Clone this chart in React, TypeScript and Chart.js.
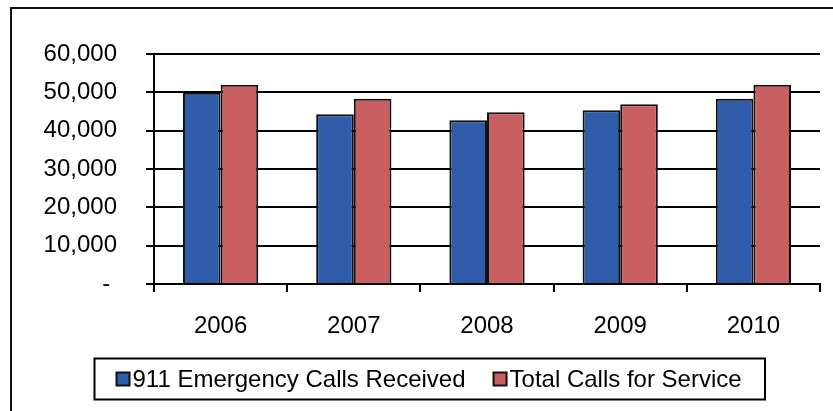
import React, { useEffect, useRef } from 'react';
import { Chart, registerables } from 'chart.js';

Chart.register(...registerables);

const years = ['2006', '2007', '2008', '2009', '2010'];
const emergencyCalls = [49900, 44300, 42700, 45300, 48300];
const totalCalls = [52000, 48300, 44800, 46900, 52000];
const seriesNames = ['911 Emergency Calls Received', 'Total Calls for Service'];
const seriesColors = ['#2F5DAA', '#C95F60'];
const yMax = 60000;
const yStep = 10000;

const FONT = '"Liberation Sans", Arial, Helvetica, sans-serif';

const boxedLegend = {
  id: 'boxedLegend',
  afterDraw(chart: any, _args: any, opts: any) {
    const ctx = chart.ctx;
    ctx.save();
    ctx.lineWidth = 2;
    ctx.strokeStyle = '#000';
    ctx.strokeRect(opts.left, opts.top, opts.width, opts.height);
    ctx.font = `24px ${FONT}`;
    ctx.textBaseline = 'middle';
    ctx.textAlign = 'left';
    const cy = opts.top + opts.height / 2;
    let x = opts.left + opts.inset;
    chart.data.datasets.forEach((ds: any) => {
      ctx.fillStyle = ds.backgroundColor;
      ctx.fillRect(x, cy - 6.5, 13, 13);
      ctx.lineWidth = 2;
      ctx.strokeStyle = '#111';
      ctx.strokeRect(x, cy - 6.5, 13, 13);
      ctx.fillStyle = '#000';
      ctx.fillText(ds.label, x + 16, cy + 1);
      x += 16 + ctx.measureText(ds.label).width + 28;
    });
    ctx.restore();
  },
};

export default function App() {
  const ref = useRef<HTMLCanvasElement | null>(null);

  useEffect(() => {
    if (!ref.current) return;
    const chart = new Chart(ref.current, {
      type: 'bar',
      data: {
        labels: years,
        datasets: [
          {
            label: seriesNames[0],
            data: emergencyCalls,
            backgroundColor: seriesColors[0],
            borderColor: '#111',
            borderWidth: 2,
          },
          {
            label: seriesNames[1],
            data: totalCalls,
            backgroundColor: seriesColors[1],
            borderColor: '#111',
            borderWidth: 2,
          },
        ],
      },
      options: {
        responsive: false,
        animation: false,
        devicePixelRatio: 1,
        layout: { padding: { top: 54, right: 13, left: 0, bottom: 67 } },
        datasets: {
          bar: { categoryPercentage: 0.565, barPercentage: 1 },
        },
        plugins: {
          legend: { display: false },
          tooltip: { enabled: false },
          boxedLegend: { left: 94.5, top: 358.5, width: 670.5, height: 41, inset: 22 },
        } as any,
        scales: {
          x: {
            grid: {
              display: true,
              drawOnChartArea: false,
              drawTicks: true,
              tickLength: 8,
              color: '#000',
              lineWidth: 2,
              offset: true,
            },
            border: { display: true, color: '#000', width: 2 },
            ticks: {
              color: '#000',
              font: { family: FONT, size: 24 },
              padding: 20,
            },
            afterFit: (s: any) => {
              s.height = 60;
            },
          },
          y: {
            min: 0,
            max: yMax,
            grid: {
              color: '#000',
              lineWidth: 2,
              tickLength: 8,
              drawTicks: true,
            },
            border: { display: true, color: '#000', width: 2 },
            ticks: {
              stepSize: yStep,
              color: '#000',
              font: { family: FONT, size: 24 },
              padding: 29,
              callback: (v: any) => (Number(v) === 0 ? '- ' : Number(v).toLocaleString('en-US')),
            },
            afterFit: (s: any) => {
              s.width = 154;
            },
          },
        },
      },
      plugins: [boxedLegend],
    });
    return () => chart.destroy();
  }, []);

  return (
    <div
      style={{
        position: 'fixed',
        left: 0,
        top: 0,
        width: 833,
        height: 411,
        overflow: 'hidden',
        background: '#fff',
      }}
    >
      <div
        style={{
          position: 'absolute',
          left: 10,
          top: 7,
          width: 900,
          height: 500,
          borderLeft: '2px solid #111',
          borderTop: '2px solid #111',
        }}
      />
      <canvas
        ref={ref}
        width={833}
        height={411}
        style={{ position: 'absolute', left: 0, top: 0, width: 833, height: 411 }}
      />
    </div>
  );
}
